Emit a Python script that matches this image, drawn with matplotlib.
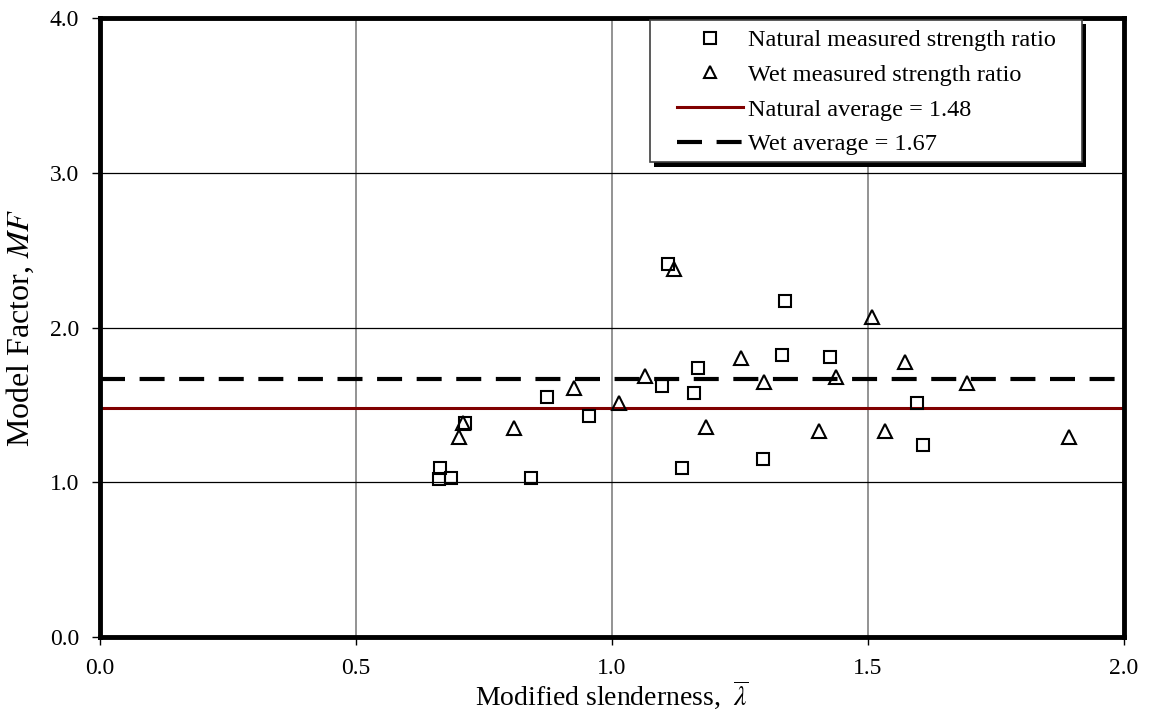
import numpy as np
import matplotlib
matplotlib.use("Agg")
import matplotlib.pyplot as plt
import matplotlib.patches as mpatches

plt.rcParams['font.family'] = ['Liberation Serif', 'DejaVu Serif']
plt.rcParams['mathtext.fontset'] = 'stix'

# natural measured strength ratio (squares)
nat_x = [1.109, 1.338, 1.332, 1.426, 1.168, 1.098, 1.160, 0.873, 0.955, 0.713,
         1.596, 1.607, 1.295, 0.664, 1.137, 0.662, 0.686, 0.842]
nat_y = [2.41, 2.17, 1.82, 1.81, 1.74, 1.62, 1.58, 1.55, 1.43, 1.38,
         1.51, 1.24, 1.15, 1.09, 1.09, 1.02, 1.03, 1.03]

# wet measured strength ratio (triangles)
wet_x = [1.121, 1.508, 1.252, 1.572, 1.064, 1.437, 1.297, 1.693, 0.926, 1.014,
         0.709, 0.701, 0.809, 1.184, 1.404, 1.533, 1.893]
wet_y = [2.38, 2.07, 1.80, 1.78, 1.69, 1.68, 1.65, 1.64, 1.61, 1.51,
         1.38, 1.29, 1.35, 1.36, 1.33, 1.33, 1.29]

nat_avg = 1.48
wet_avg = 1.67

fig = plt.figure(figsize=(11.51, 7.22), dpi=100)
ax = fig.add_axes([0.0869, 0.1177, 0.8897, 0.8573])

ax.plot(nat_x, nat_y, ls='none', marker='s', ms=9, mfc='none', mec='black', mew=1.5,
        label='Natural measured strength ratio', zorder=4)
ax.plot(wet_x, wet_y, ls='none', marker='^', ms=9.5, mfc='none', mec='black', mew=1.5,
        label='Wet measured strength ratio', zorder=4)
ax.axhline(nat_avg, color='#800000', lw=2.2, label='Natural average = 1.48', zorder=3)
ax.axhline(wet_avg, color='black', lw=3, dashes=(6, 3.5), label='Wet average = 1.67', zorder=3)

ax.set_xlim(0, 2)
ax.set_ylim(0, 4)
ax.set_xticks([0, 0.5, 1.0, 1.5, 2.0])
ax.set_yticks([0, 1, 2, 3, 4])
ax.xaxis.set_major_formatter(matplotlib.ticker.FormatStrFormatter('%.1f'))
ax.yaxis.set_major_formatter(matplotlib.ticker.FormatStrFormatter('%.1f'))
ax.tick_params(labelsize=17, direction='out', length=6, width=1, pad=9)

for x in [0.5, 1.0, 1.5]:
    ax.axvline(x, color='#808080', lw=1.2, zorder=1)
for y in [1, 2, 3]:
    ax.axhline(y, color='black', lw=0.9, zorder=1)

for s in ax.spines.values():
    s.set_linewidth(3.5)
    s.set_zorder(6)

ax.set_ylabel('Model Factor, $\\mathit{MF}$', fontsize=23, labelpad=10)
ax.set_xlabel('Modified slenderness,  $\\overline{\\lambda}$', fontsize=20, labelpad=0)

# legend box with black shadow
shadow = mpatches.Rectangle((0.541, 0.760), 0.422, 0.230, transform=ax.transAxes,
                            facecolor='black', edgecolor='none', zorder=7, clip_on=False)
box = mpatches.Rectangle((0.537, 0.767), 0.422, 0.230, transform=ax.transAxes,
                         facecolor='white', edgecolor='#404040', lw=1.2, zorder=8,
                         clip_on=False)
ax.add_patch(shadow)
ax.add_patch(box)

leg = ax.legend(loc='upper left', bbox_to_anchor=(0.5635, 0.982), fontsize=17.5,
                frameon=False, handlelength=2.7, handletextpad=0.2,
                borderpad=0, borderaxespad=0, labelspacing=0.52, markerscale=0.9)
leg.set_zorder(9)

plt.savefig('out.png', dpi=100)
